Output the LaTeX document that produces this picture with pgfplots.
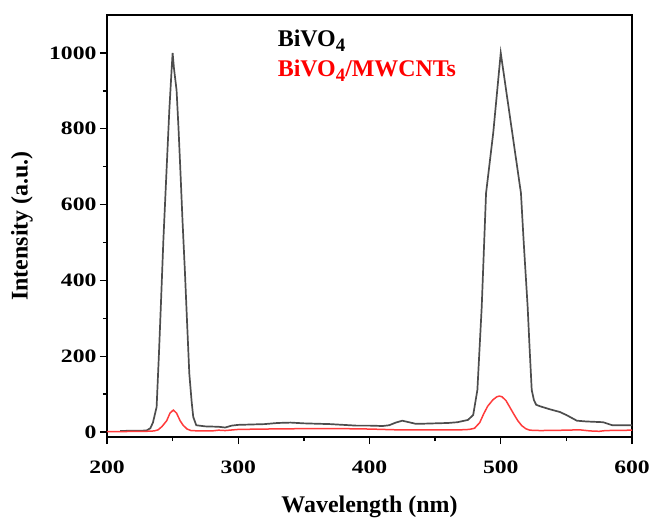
\documentclass[border=0pt]{standalone}
\usepackage{pgfplots}
\pgfplotsset{compat=1.18}
\usepackage{fontspec}
\setmainfont{Liberation Serif}
\newfontfamily\tickfont{Liberation Serif}[FakeStretch=1.25]
\definecolor{curvegray}{HTML}{4D4D4D}
\definecolor{curvered}{HTML}{FF3B3B}
\begin{document}
\begin{tikzpicture}
\begin{axis}[
  name=ax, at={(0,0)}, anchor=south west,
  width=525bp, height=422bp, scale only axis,
  xmin=200, xmax=600, ymin=-13, ymax=1100,
  xtick={200,300,400,500,600}, minor xtick={250,350,450,550},
  ytick={0,200,400,600,800,1000}, minor ytick={100,300,500,700,900},
  tick align=outside, xtick pos=bottom, ytick pos=left,
  major tick length=7bp, minor tick length=4bp,
  axis line style={line width=1.6bp},
  every tick/.style={black, line width=1.4bp},
  /pgf/number format/assume math mode=true,
  scaled ticks=false,
  /pgf/number format/1000 sep={},
  tick label style={font=\fontsize{19}{19}\selectfont\tickfont\bfseries},
  xticklabel style={yshift=-13bp},
  xlabel={Wavelength (nm)}, ylabel={Intensity (a.u.)},
  label style={font=\fontsize{24}{24}\selectfont\bfseries},
  xlabel style={at={(axis description cs:0.5,-0.165)}, anchor=center},
  ylabel style={at={(axis description cs:-0.162,0.5)}, anchor=center},
]
\addplot[curvegray, line width=1.7bp] coordinates {
(210,3) (230,4) (233,10) (235,25) (237.8,66) (239.5,200) (241,330) (243,510)
(245.5,700) (247.5,850) (249.3,960) (250,1000) (251,960) (253,902) (254.5,800)
(256,683) (257.5,560) (259.4,420) (261,290) (262.7,155) (264.5,80) (265.7,40)
(268,18) (275,15) (285,14) (290,12) (295,17) (300,19) (310,20) (320,21)
(330,24) (340,25) (350,23) (360,22) (370,21) (380,19) (390,17) (400,17)
(410,16) (415,18) (420,25) (425,30) (430,26) (435,22) (440,22) (450,23)
(460,24) (467,26) (475,32) (479,45) (482.2,111) (485.5,330) (488.8,630)
(494.3,790) (500,1000)
(515.4,630) (517.5,500) (520.5,330) (522,220) (523.6,111) (525.3,84) (527,72)
(530,68) (537.5,60) (545,53) (550,45) (558,30) (565,28) (578,26) (585,18) (600,18)
};
\addplot[curvered, line width=1.5bp] coordinates {
(200,1) (230,2) (236,3) (239,6) (242,15) (245.5,30) (248,50) (250.5,58)
(253,50) (255.7,30) (258,18) (261,8) (264,4) (270,3) (280,3) (285,5) (290,4)
(300,7) (320,8) (350,9) (380,9) (400,8) (420,6) (450,6) (470,6) (476,7)
(480,10) (484,25) (487,48) (490,68) (494,85) (497,93) (499,95) (501,93)
(504,83) (507,65) (510,47) (513,30) (516,17) (519,9) (522,5) (530,4)
(550,5) (560,6) (568,3) (575,2) (580,4) (600,5)
};
\node[anchor=base west, font=\fontsize{24}{24}\selectfont\bfseries, text=black, inner sep=0pt]
  at (axis cs:330,1018) {BiVO\raisebox{-5bp}{\fontsize{19}{19}\selectfont 4}};
\node[anchor=base west, font=\fontsize{24}{24}\selectfont\bfseries, text=red, inner sep=0pt]
  at (axis cs:330,939) {BiVO\raisebox{-5bp}{\fontsize{19}{19}\selectfont 4}/MWCNTs};
\end{axis}
\pgfresetboundingbox
\path[use as bounding box] ([xshift=-107bp,yshift=-85bp]ax.south west) rectangle ([xshift=18bp,yshift=15bp]ax.north east);
\end{tikzpicture}
\end{document}
